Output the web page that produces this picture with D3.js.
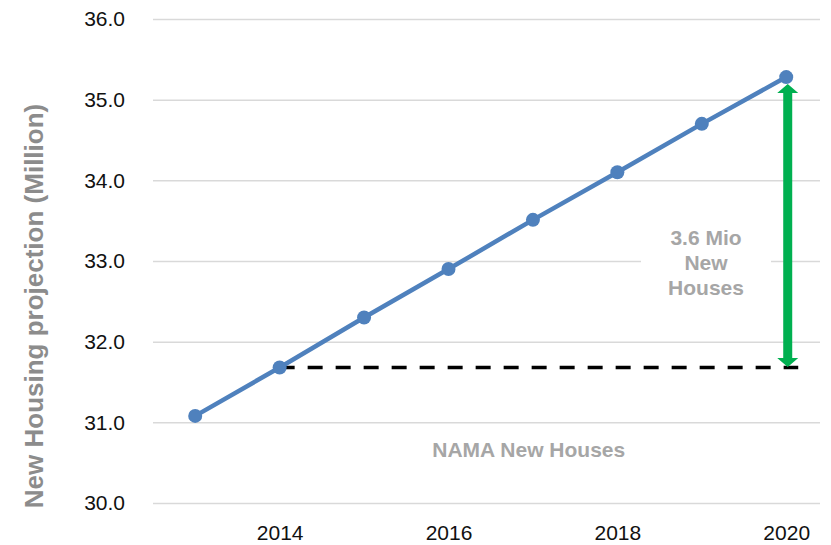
<!DOCTYPE html>
<html>
<head>
<meta charset="utf-8">
<script src="https://cdn.jsdelivr.net/npm/d3@7"></script>
<style>
  html, body { margin: 0; padding: 0; background: #fff; }
  svg { display: block; }
</style>
</head>
<body>
<svg id="chart" width="831" height="545"></svg>
<script>
// ---- data ----
const years = [2013, 2014, 2015, 2016, 2017, 2018, 2019, 2020];
const housing = [31.08, 31.68, 32.30, 32.90, 33.51, 34.10, 34.70, 35.28];
const yTicks = [30, 31, 32, 33, 34, 35, 36];
const xTicks = [2014, 2016, 2018, 2020];
const baselineYear = 2014;
const yTitle = "New Housing projection (Million)";
const arrowLabel = ["3.6 Mio", "New", "Houses"];
const baselineLabel = "NAMA New Houses";

// ---- layout ----
const svg = d3.select("#chart");
const x = d3.scaleLinear().domain([2012.5, 2020.4]).range([153, 820]);
const y = d3.scaleLinear().domain([30, 36]).range([503, 19]);

const blue = "#4f81bd";
const green = "#00b050";
const grey = "#a6a6a6";

// gridlines via axis
const yAxis = d3.axisLeft(y).tickValues(yTicks).tickSize(-(820 - 153)).tickFormat(d3.format(".1f")).tickPadding(28);
const gy = svg.append("g").attr("transform", "translate(153,0)").call(yAxis);
gy.select(".domain").remove();
gy.selectAll(".tick line").attr("stroke", "#d9d9d9").attr("stroke-width", 1.5);
gy.selectAll(".tick text")
  .attr("font-family", "'Liberation Sans', Arial, sans-serif")
  .attr("font-size", 21).attr("fill", "#111");

const xAxis = d3.axisBottom(x).tickValues(xTicks).tickSize(0).tickFormat(d3.format("d")).tickPadding(22);
const gx = svg.append("g").attr("transform", "translate(0,503)").call(xAxis);
gx.select(".domain").remove();
gx.selectAll(".tick text")
  .attr("font-family", "'Liberation Sans', Arial, sans-serif")
  .attr("font-size", 21).attr("fill", "#111");

// y-axis title
svg.append("text")
  .attr("transform", "translate(43,306) rotate(-90)")
  .attr("text-anchor", "middle")
  .attr("font-family", "'Liberation Sans', Arial, sans-serif")
  .attr("font-weight", "bold")
  .attr("font-size", 26)
  .attr("fill", "#8c8c8c")
  .text(yTitle);

// annotation label box (covers gridline)
const lastIdx = years.length - 1;
const baseVal = housing[years.indexOf(baselineYear)];
const topVal = housing[lastIdx];
const midY = y(33) + 2;
const labelCx = x(2019.05);
svg.append("rect")
  .attr("x", labelCx - 65).attr("y", midY - 40)
  .attr("width", 130).attr("height", 80)
  .attr("fill", "#fff");
const lbl = svg.append("text")
  .attr("text-anchor", "middle")
  .attr("font-family", "'Liberation Sans', Arial, sans-serif")
  .attr("font-weight", "bold")
  .attr("font-size", 21)
  .attr("fill", grey);
arrowLabel.forEach((t, i) => {
  lbl.append("tspan")
    .attr("x", labelCx)
    .attr("y", midY + (i - 1) * 25)
    .attr("dy", "0.35em")
    .text(t);
});

// baseline label
svg.append("text")
  .attr("x", x(2016.95)).attr("y", 450)
  .attr("dy", "0.35em")
  .attr("text-anchor", "middle")
  .attr("font-family", "'Liberation Sans', Arial, sans-serif")
  .attr("font-weight", "bold")
  .attr("font-size", 21)
  .attr("fill", grey)
  .text(baselineLabel);

// dashed baseline
svg.append("line")
  .attr("x1", x(baselineYear)).attr("x2", x(years[lastIdx]) + 12)
  .attr("y1", y(baseVal)).attr("y2", y(baseVal))
  .attr("stroke", "#000").attr("stroke-width", 3.5)
  .attr("stroke-dasharray", "15,13");

// line
const line = d3.line().x((d, i) => x(years[i])).y(d => y(d));
svg.append("path")
  .datum(housing)
  .attr("d", line)
  .attr("fill", "none")
  .attr("stroke", blue)
  .attr("stroke-width", 4.5)
  .attr("stroke-linejoin", "round");

// green double arrow
const ax = x(years[lastIdx]) + 1.5;
const yTop = y(topVal) + 7;
const yBot = y(baseVal) - 0.5;
const hl = 9, hw = 10.5, sw = 4.5;
const arrowPath = [
  [ax, yTop], [ax + hw, yTop + hl], [ax + sw, yTop + hl],
  [ax + sw, yBot - hl], [ax + hw, yBot - hl], [ax, yBot],
  [ax - hw, yBot - hl], [ax - sw, yBot - hl], [ax - sw, yTop + hl],
  [ax - hw, yTop + hl]
];
svg.append("path")
  .attr("d", d3.line()(arrowPath) + "Z")
  .attr("fill", green);

// markers
svg.append("g").selectAll("circle")
  .data(housing)
  .join("circle")
  .attr("cx", (d, i) => x(years[i]))
  .attr("cy", d => y(d))
  .attr("r", 7)
  .attr("fill", blue);
</script>
</body>
</html>
